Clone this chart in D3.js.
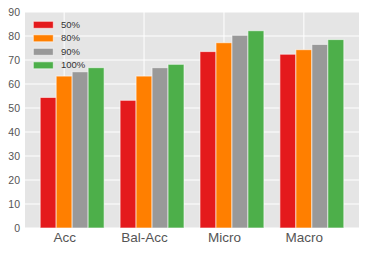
<!DOCTYPE html>
<html><head><meta charset="utf-8">
<script src="https://cdn.jsdelivr.net/npm/d3@7"></script>
<style>body{margin:0;background:#fff}svg{display:block}text{font-family:"DejaVu Sans",sans-serif}</style>
</head><body><svg id="c" width="366" height="253"></svg>
<script>
const categories = ["Acc", "Bal-Acc", "Micro", "Macro"];
const seriesNames = ["50%", "80%", "90%", "100%"];
const colors = ["#e41a1c", "#ff7f00", "#999999", "#4daf4a"];
const s50 = [54.4, 53.2, 73.5, 72.4];
const s80 = [63.3, 63.3, 77.2, 74.3];
const s90 = [65.1, 66.8, 80.3, 76.5];
const s100 = [66.8, 68.2, 82.2, 78.5];
const yTicks = [0, 10, 20, 30, 40, 50, 60, 70, 80, 90];
const series = [s50, s80, s90, s100];

const svg = d3.select("#c");
const L = 25, R = 359, T = 12, B = 228;
const bw = 0.2;
const x = d3.scaleLinear().domain([-0.49, 3.69]).range([L, R]);
const y = d3.scaleLinear().domain([0, 90]).range([B, T]);

svg.append("rect").attr("x", L).attr("y", T).attr("width", R - L).attr("height", B - T).attr("fill", "#e5e5e5");
svg.append("g").selectAll("line").data(yTicks).join("line")
  .attr("x1", L).attr("x2", R).attr("y1", d => y(d)).attr("y2", d => y(d))
  .attr("stroke", "#fff").attr("stroke-width", 1);
svg.append("g").selectAll("line").data(categories).join("line")
  .attr("x1", (d, i) => x(i)).attr("x2", (d, i) => x(i)).attr("y1", T).attr("y2", B)
  .attr("stroke", "#fff").attr("stroke-width", 1);

series.forEach((s, k) => {
  svg.append("g").selectAll("rect").data(s).join("rect")
    .attr("x", (d, i) => x(i - 0.3 + k * bw))
    .attr("width", x(bw) - x(0))
    .attr("y", d => y(d))
    .attr("height", d => y(0) - y(d))
    .attr("fill", colors[k])
    .attr("stroke", "#ffffff").attr("stroke-opacity", 0.6).attr("stroke-width", 1);
});

const yAxis = d3.axisLeft(y).tickValues(yTicks).tickSize(0).tickPadding(5);
const gy = svg.append("g").attr("transform", `translate(${L},0)`).call(yAxis);
gy.select(".domain").remove();
gy.selectAll("text").attr("fill", "#555").style("font-size", "10.5px").style("font-family", "Liberation Sans, Arial, sans-serif");

const xAxis = d3.axisBottom(x).tickValues([0, 1, 2, 3]).tickFormat(i => categories[i]).tickSize(0).tickPadding(4);
const gx = svg.append("g").attr("transform", `translate(0,${B})`).call(xAxis);
gx.select(".domain").remove();
gx.selectAll("text").attr("fill", "#555").style("font-size", "13.5px").style("font-family", "Liberation Sans, Arial, sans-serif");

const lg = svg.append("g");
seriesNames.forEach((n, k) => {
  const cy = 24.3 + k * 13.5;
  lg.append("rect").attr("x", 33.3).attr("y", cy - 3).attr("width", 20).attr("height", 7)
    .attr("fill", colors[k]).attr("stroke", "#fff").attr("stroke-opacity", 0.6);
  lg.append("text").attr("x", 61).attr("y", cy + 3.5).text(n)
    .attr("fill", "#333").style("font-size", "9.5px").style("font-family", "Liberation Sans, Arial, sans-serif");
});
</script></body></html>
